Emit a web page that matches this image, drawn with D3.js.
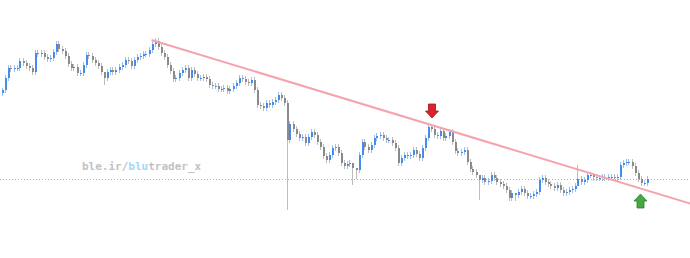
<!DOCTYPE html>
<html>
<head>
<meta charset="utf-8">
<script src="https://cdn.jsdelivr.net/npm/d3@7"></script>
<style>
  html, body { margin: 0; padding: 0; background: #fff; }
  svg { display: block; }
</style>
</head>
<body>
<div id="chart"></div>
<script>
// closing prices, one per bar
const closes = [
  210, 222, 232, 231, 232, 232, 239, 237, 234, 232, 228, 247, 246, 247, 243, 241, 242, 248, 256, 251,
  249, 244, 236, 232, 233, 227, 227, 235, 245, 244, 240, 237, 234, 228, 222, 228, 230, 228, 230, 233,
  235, 240, 239, 234, 240, 243, 244, 246, 246, 250, 256, 259, 253, 247, 243, 235, 229, 221, 222, 227,
  230, 232, 222, 230, 226, 222, 222, 223, 221, 215, 214, 214, 211, 211, 212, 209, 211, 214, 217, 222,
  221, 218, 217, 220, 210, 195, 194, 192, 197, 195, 198, 200, 205, 202, 197, 160, 176, 171, 166, 162,
  163, 157, 163, 168, 165, 158, 153, 144, 140, 145, 152, 153, 147, 137, 134, 136, 137, 132, 130, 145,
  158, 153, 150, 155, 162, 164, 165, 162, 160, 160, 157, 152, 137, 142, 145, 144, 145, 150, 146, 142,
  152, 162, 173, 171, 165, 164, 169, 162, 164, 168, 158, 149, 147, 148, 150, 138, 131, 128, 125, 120,
  122, 118, 119, 125, 122, 118, 116, 114, 110, 102, 107, 105, 108, 111, 107, 104, 104, 106, 108, 120,
  122, 118, 116, 114, 112, 115, 110, 107, 108, 110, 111, 114, 121, 118, 120, 125, 125, 123, 122, 122,
  123, 122, 123, 123, 122, 123, 135, 137, 138, 138, 134, 127, 121, 117, 117, 121
];
const firstOpen = 207;

// bars whose wicks reach well past the body: index -> [high, low]
const spikes = {
  0: [212, 204],
  34: [224, 215],
  95: [200, 90],
  117: [134, 115],
  118: [132, 121],
  159: [123, 100],
  171: [105, 99],
  192: [135, 118],
  197: [127, 119]
};
const wickPad = 3;

// trend line: [bar index, price]
const trend = [[50, 260], [230, 96]];

// signal arrows: bar index, price at the tip
const sellSignal = { i: 143.5, p: 182 };
const buySignal = { i: 213, p: 106 };

const W = 690, H = 258;

const bars = closes.map((c, i) => {
  const o = i === 0 ? firstOpen : closes[i - 1];
  const s = spikes[i];
  return {
    i, o, c,
    h: s ? s[0] : Math.max(o, c) + wickPad,
    l: s ? s[1] : Math.min(o, c) - wickPad
  };
});

const x = d3.scaleLinear().domain([0, 230]).range([1.5, 691.5]);
const y = d3.scaleLinear().domain([90, 260]).range([210, 40]);

const svg = d3.select("#chart").append("svg")
  .attr("width", W).attr("height", H);

// watermark
const wm = svg.append("text")
  .attr("x", 82).attr("y", 170)
  .attr("font-family", "DejaVu Sans Mono, monospace")
  .attr("font-weight", "bold")
  .attr("font-size", "11px")
  .attr("fill", "#c2c2c2");
wm.append("tspan").text("ble.ir/");
wm.append("tspan").attr("fill", "#a5d8f2").text("blu");
wm.append("tspan").text("trader_x");

// last price line
const last = closes[closes.length - 1];
svg.append("line")
  .attr("x1", 0).attr("x2", W)
  .attr("y1", Math.round(y(last)) + 0.5).attr("y2", Math.round(y(last)) + 0.5)
  .attr("stroke", "#9db6d8")
  .attr("stroke-width", 1)
  .attr("stroke-dasharray", "1,2");

// candles
const g = svg.append("g");
const up = "#448cec", down = "#8a8a8a";

g.selectAll("line.wick")
  .data(bars)
  .enter().append("line")
    .attr("class", "wick")
    .attr("x1", d => Math.round(x(d.i)) + 0.5)
    .attr("x2", d => Math.round(x(d.i)) + 0.5)
    .attr("y1", d => y(d.h))
    .attr("y2", d => y(d.l))
    .attr("stroke", d => d.c >= d.o ? "#9cc0ef" : "#bdbdbd")
    .attr("stroke-width", 1);

g.selectAll("rect.body")
  .data(bars)
  .enter().append("rect")
    .attr("class", "body")
    .attr("x", d => Math.round(x(d.i)))
    .attr("width", 2)
    .attr("y", d => y(Math.max(d.o, d.c)))
    .attr("height", d => Math.max(1, Math.abs(y(d.o) - y(d.c))))
    .attr("fill", d => d.c >= d.o ? up : down);

// trend line
svg.append("line")
  .attr("x1", x(trend[0][0])).attr("y1", y(trend[0][1]))
  .attr("x2", x(trend[1][0])).attr("y2", y(trend[1][1]))
  .attr("stroke", "#f5a3ad")
  .attr("stroke-width", 2);

// arrows
function arrow(sig, dir, fill, edge) {
  // dir = 1 points down (tip at bottom), -1 points up
  const cx = x(sig.i), ty = y(sig.p);
  const pts = [
    [0, 0], [-6.5, -7], [-3.5, -7], [-3.5, -14], [3.5, -14], [3.5, -7], [6.5, -7]
  ].map(([dx, dy]) => [cx + dx, ty + dy * dir]);
  svg.append("path")
    .attr("d", d3.line()(pts) + "Z")
    .attr("fill", fill)
    .attr("stroke", edge)
    .attr("stroke-width", 0.8);
}
arrow(sellSignal, 1, "#d9242c", "#a3161c");
arrow(buySignal, -1, "#45a845", "#2e7d32");
</script>
</body>
</html>
